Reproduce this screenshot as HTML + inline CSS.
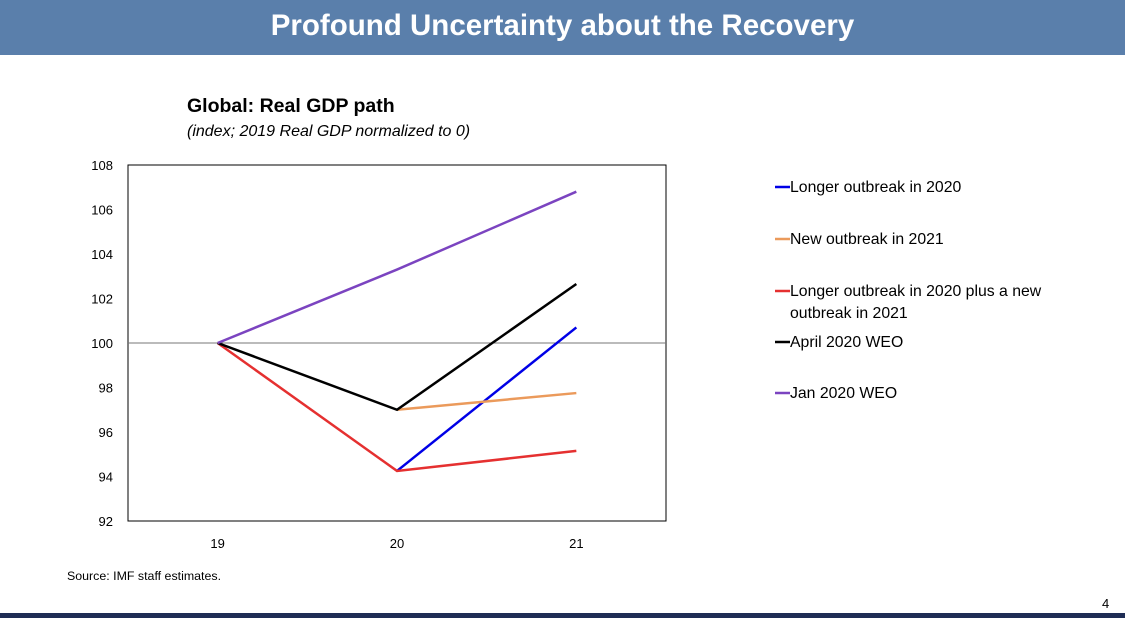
<!DOCTYPE html>
<html><head><meta charset="utf-8"><style>
body{margin:0;width:1125px;height:618px;background:#fff;font-family:"Liberation Sans",sans-serif;position:relative;overflow:hidden}
#hdr{position:absolute;left:0;top:0;width:1125px;height:55px;background:#5a7fab;color:#fff;font-weight:bold;font-size:29.5px;text-align:center;line-height:52px}
#btm{position:absolute;left:0;top:613px;width:1125px;height:5px;background:#1f2d55}
</style></head><body>
<div id="hdr">Profound Uncertainty about the Recovery</div>
<svg id="c" width="1125" height="618" style="position:absolute;left:0;top:0"></svg>
<div id="btm"></div>
<script>
const categories=["19","20","21"];
const yTicks=[92,94,96,98,100,102,104,106,108];
const seriesNames=["Longer outbreak in 2020","New outbreak in 2021","Longer outbreak in 2020 plus a new outbreak in 2021","April 2020 WEO","Jan 2020 WEO"];
const longer2020=[null,94.25,100.7];
const new2021=[null,97.0,97.75];
const longerPlusNew=[100,94.25,95.15];
const april2020=[100,97.0,102.65];
const jan2020=[100,103.3,106.8];
const ns="http://www.w3.org/2000/svg",svg=document.getElementById('c');
const L=128,R=666,T=165,B=521;
const x=i=>L+(R-L)/categories.length*(i+0.5);
const y=v=>B-(v-92)/(108-92)*(B-T);
function mk(t,a,txt){const e=document.createElementNS(ns,t);for(const k in a)e.setAttribute(k,a[k]);if(txt!=null)e.textContent=txt;svg.appendChild(e);return e;}
let e;
e=mk('text',{x:187,y:112,'font-size':19.5,'font-weight':'bold',fill:'#000'},'Global: Real GDP path');

e=mk('text',{x:187,y:136,'font-size':16,'font-style':'italic',fill:'#000'},'(index; 2019 Real GDP normalized to 0)');

e=mk('rect',{x:L,y:T,width:R-L,height:B-T,fill:'none',stroke:'#000','stroke-width':1});

e=mk('line',{x1:L,x2:R,y1:y(100),y2:y(100),stroke:'#777','stroke-width':1});

yTicks.forEach(v=>{e=mk('text',{x:113,y:y(v)+5,'font-size':13,'text-anchor':'end',fill:'#000'},v);
});
categories.forEach((c,i)=>{e=mk('text',{x:x(i),y:548,'font-size':13,'text-anchor':'middle',fill:'#000'},c);
});
const series=[[longer2020,'#0000e6'],[new2021,'#eb9a5b'],[longerPlusNew,'#e53030'],[april2020,'#000'],[jan2020,'#7b44c0']];
series.forEach(([d,col])=>{
  const p=[];d.forEach((v,i)=>{if(v!=null)p.push(x(i)+','+y(v));});
  e=mk('polyline',{points:p.join(' '),fill:'none',stroke:col,'stroke-width':2.5});
  
});
const ly=[187,239,291,342,393];
seriesNames.forEach((n,i)=>{
  e=mk('line',{x1:775,x2:790,y1:ly[i],y2:ly[i],stroke:series[i][1],'stroke-width':2.5});
  
  if(i===2){e=mk('text',{x:790,y:ly[i]+5,'font-size':15.8,fill:'#000'},'Longer outbreak in 2020 plus a new');
    
    e=mk('text',{x:790,y:ly[i]+27,'font-size':15.8,fill:'#000'},'outbreak in 2021');}
  else e=mk('text',{x:790,y:ly[i]+5,'font-size':15.8,fill:'#000'},n);
  
});
e=mk('text',{x:67,y:580,'font-size':12.4,fill:'#000'},'Source: IMF staff estimates.');

e=mk('text',{x:1102,y:608,'font-size':13,fill:'#000'},'4');

</script>
</body></html>
